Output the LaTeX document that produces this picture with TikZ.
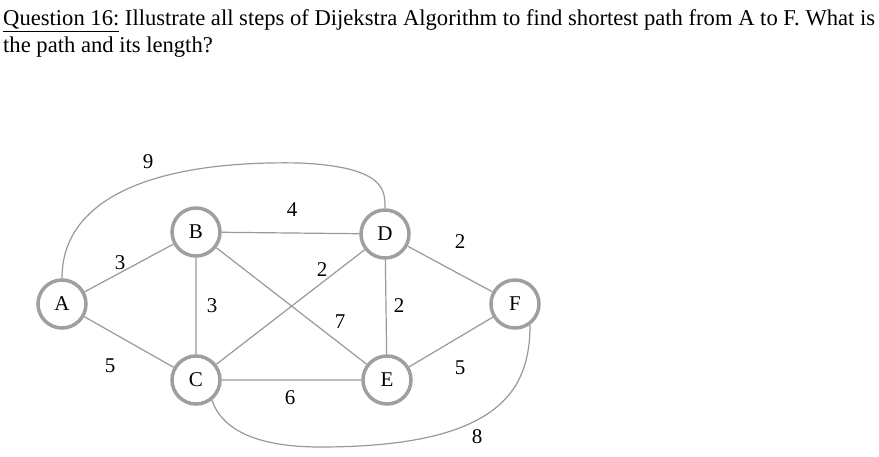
\documentclass[tikz,border=0pt]{standalone}
\usepackage{fontspec}
\setmainfont{Liberation Serif}
\begin{document}
\begin{tikzpicture}[x=1pt,y=-1pt,
  vert/.style={circle,draw=gray!75,line width=3.5pt,minimum size=48pt,inner sep=0pt,fill=white,font=\fontsize{21}{21}\selectfont},
  edge/.style={draw=gray!80,line width=1.2pt},
  wt/.style={font=\fontsize{21}{21}\selectfont,inner sep=1pt}]
\useasboundingbox[fill=white] (0,0) rectangle (879,457);
\node[anchor=base west,inner sep=0pt,font=\fontsize{22.6}{22.6}\selectfont] (t1) at (3,26) {\underline{Question 16:} Illustrate all steps of Dijekstra Algorithm to find shortest path from A to F. What is};
\node[anchor=base west,inner sep=0pt,font=\fontsize{22.6}{22.6}\selectfont] (t2) at (3,53) {the path and its length?};
\coordinate (p9) at (300,163);
\coordinate (p8) at (320,447);
\draw[edge] (62,278) .. controls (62,200) and (150,160) .. (p9) .. controls (385,167) and (385,190) .. (385,208);
\draw[edge] (212,400) .. controls (225,440) and (280,447) .. (p8) .. controls (500,447) and (530,390) .. (530,325);
\node[vert] (A) at (62,304) {A};
\node[vert] (B) at (196,232) {B};
\node[vert] (D) at (385,234) {D};
\node[vert] (F) at (515,304) {F};
\node[vert] (C) at (196,380) {C};
\node[vert] (E) at (387,380) {E};
\path[edge] (A)--(B) (A)--(C) (B)--(D) (B)--(C) (B)--(E) (C)--(D) (C)--(E) (D)--(E) (D)--(F) (E)--(F);
\node[wt] (w9) at (148,162) {9};
\node[wt] (w4) at (292,210) {4};
\node[wt] (w3a) at (120,263) {3};
\node[wt] (w2a) at (460,242) {2};
\node[wt] (w2b) at (322,270) {2};
\node[wt] (w3b) at (212,306) {3};
\node[wt] (w2c) at (399,306) {2};
\node[wt] (w7) at (340,322) {7};
\node[wt] (w5a) at (110,366) {5};
\node[wt] (w5b) at (460,368) {5};
\node[wt] (w6) at (290,398) {6};
\node[wt] (w8) at (477,437) {8};
\end{tikzpicture}
\end{document}
